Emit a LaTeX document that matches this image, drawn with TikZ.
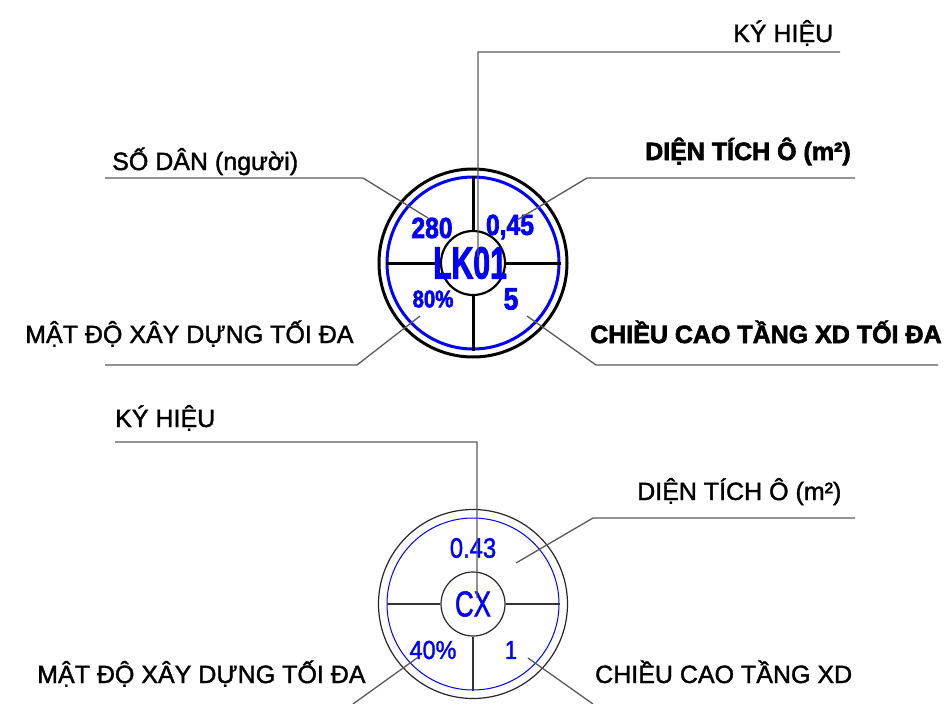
\documentclass[tikz,border=0pt]{standalone}
\usepackage{fontspec}
\usepackage{graphicx}
\setmainfont{Liberation Sans}[UprightFeatures={FakeBold=1.5}, BoldFeatures={FakeBold=2.5}]
\newcommand{\narrow}[2][0.85]{\scalebox{#1}[1]{#2}}
\tikzset{
  ring/.style={circle, draw, inner sep=0pt},
  leader/.style={draw=black!65, line width=1.3pt},
  lbl/.style={anchor=base west, inner sep=0pt, font=\fontsize{25}{30}\selectfont},
  val/.style={text=blue, inner sep=0pt},
}
\begin{document}
\begin{tikzpicture}[x=1pt, y=-1pt]
\useasboundingbox (0,0) rectangle (948,704);
%
% upper sign
\node[ring, line width=3pt, minimum size=188pt] (outerA) at (473,263) {};
\node[ring, draw=blue, line width=3pt, minimum size=172pt] (blueA) at (473,263) {};
\node[ring, line width=2.2pt, minimum size=64pt] (hubA) at (473,263) {};
\draw[line width=3pt]
(hubA.west) -- (blueA.west) (hubA.east) -- (blueA.east)
(hubA.north) -- (blueA.north) (hubA.south) -- (blueA.south);
%
\node[val, font=\fontsize{29}{30}\bfseries] (popA) at (432,228) {\narrow{280}};
\node[val, font=\fontsize{29}{30}\bfseries] (areaA) at (510,227) {\narrow{0,45}};
\node[val, font=\fontsize{45}{46}\bfseries] (codeA) at (470,263) {\narrow[0.67]{LK01}};
\node[val, font=\fontsize{24}{26}\bfseries] (densA) at (433,299) {\narrow{80\%}};
\node[val, font=\fontsize{31}{32}\bfseries] (floorA) at (511,299) {\narrow{5}};
%
\node[lbl] (kyA) at (733,42) {KÝ HIỆU};
\node[lbl] (danA) at (112,170) {SỐ DÂN (người)};
\node[lbl, font=\fontsize{25}{30}\bfseries] (dtA) at (645,160) {DIỆN TÍCH Ô (m²)};
\node[lbl] (mdA) at (25,343) {MẬT ĐỘ XÂY DỰNG TỐI ĐA};
\node[lbl, font=\fontsize{25}{30}\bfseries] (ccA) at (590,343) {CHIỀU CAO TẦNG XD TỐI ĐA};
%
\coordinate (kyA0) at (840,52); \coordinate (kyA1) at (478,52); \coordinate (kyA2) at (478,257);
\coordinate (danA0) at (105,178); \coordinate (danA1) at (363,178); \coordinate (danA2) at (428,218);
\coordinate (dtA0) at (855,178); \coordinate (dtA1) at (587,178); \coordinate (dtA2) at (517,220);
\coordinate (mdA0) at (105,365); \coordinate (mdA1) at (357,365); \coordinate (mdA2) at (420,316);
\coordinate (ccA0) at (938,365); \coordinate (ccA1) at (596,365); \coordinate (ccA2) at (527,316);
\draw[leader]
(kyA0) -- (kyA1) -- (kyA2)
(danA0) -- (danA1) -- (danA2)
(dtA0) -- (dtA1) -- (dtA2)
(mdA0) -- (mdA1) -- (mdA2)
(ccA0) -- (ccA1) -- (ccA2);
%
% lower sign
\node[ring, draw=black!85, line width=1.2pt, minimum size=189pt] (outerB) at (473,604) {};
\node[ring, draw=blue, line width=1pt, minimum size=172pt] (blueB) at (473,604) {};
\node[ring, draw=black!85, line width=1.2pt, minimum size=64pt] (hubB) at (473,604) {};
\draw[black!80, line width=1.2pt]
(hubB.west) -- (blueB.west) (hubB.east) -- (blueB.east)
(hubB.south) -- (blueB.south);
%
\node[val, font=\fontsize{28}{30}\selectfont] (areaB) at (473,548) {\narrow{0.43}};
\node[val, font=\fontsize{36}{38}\selectfont] (codeB) at (473,604) {\narrow[0.72]{CX}};
\node[val, font=\fontsize{26}{28}\selectfont] (densB) at (433,650) {\narrow[0.9]{40\%}};
\node[val, font=\fontsize{26}{28}\selectfont] (floorB) at (511,650) {\narrow{1}};
%
\node[lbl] (kyB) at (115,427) {KÝ HIỆU};
\node[lbl] (dtB) at (637,500) {DIỆN TÍCH Ô (m²)};
\node[lbl] (mdB) at (37,683) {MẬT ĐỘ XÂY DỰNG TỐI ĐA};
\node[lbl] (ccB) at (595,683) {CHIỀU CAO TẦNG XD};
%
\coordinate (kyB0) at (115,442); \coordinate (kyB1) at (477,442); \coordinate (kyB2) at (477,598);
\coordinate (dtB0) at (855,518); \coordinate (dtB1) at (593,518); \coordinate (dtB2) at (516,563);
\coordinate (mdB0) at (353,704); \coordinate (mdB1) at (417,658);
\coordinate (ccB0) at (593,704); \coordinate (ccB1) at (528,658);
\draw[leader]
(kyB0) -- (kyB1) -- (kyB2)
(dtB0) -- (dtB1) -- (dtB2)
(mdB0) -- (mdB1)
(ccB0) -- (ccB1);
%
\end{tikzpicture}
\end{document}
